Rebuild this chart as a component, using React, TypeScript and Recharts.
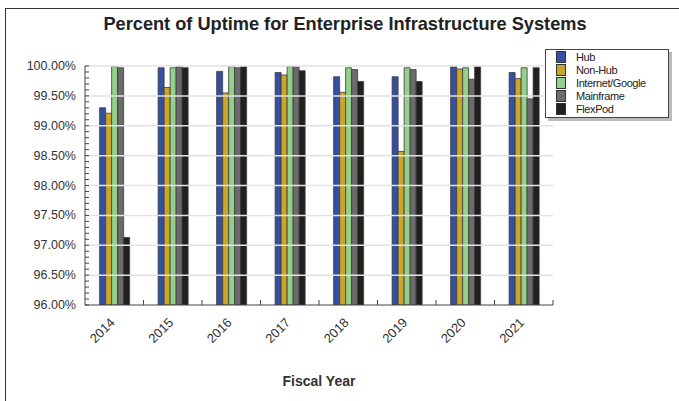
import React from "react";
import {
  BarChart,
  Bar,
  XAxis,
  YAxis,
  ReferenceLine,
  Legend,
} from "recharts";

// categories and series
const years = ["2014", "2015", "2016", "2017", "2018", "2019", "2020", "2021"];
const hub = [99.3, 99.97, 99.91, 99.89, 99.82, 99.82, 99.99, 99.89];
const nonHub = [99.21, 99.64, 99.55, 99.85, 99.56, 98.57, 99.95, 99.79];
const internetGoogle = [99.99, 99.97, 99.99, 99.99, 99.97, 99.97, 99.97, 99.97];
const mainframe = [99.97, 99.99, 99.97, 99.99, 99.94, 99.94, 99.78, 99.45];
const flexPod = [97.13, 99.97, 99.99, 99.92, 99.74, 99.74, 99.99, 99.97];

// axis ticks
const majorTicks = [96, 96.5, 97, 97.5, 98, 98.5, 99, 99.5, 100];
const minorTicks = [
  96, 96.1, 96.2, 96.3, 96.4, 96.5, 96.6, 96.7, 96.8, 96.9,
  97, 97.1, 97.2, 97.3, 97.4, 97.5, 97.6, 97.7, 97.8, 97.9,
  98, 98.1, 98.2, 98.3, 98.4, 98.5, 98.6, 98.7, 98.8, 98.9,
  99, 99.1, 99.2, 99.3, 99.4, 99.5, 99.6, 99.7, 99.8, 99.9, 100,
];

const series = [
  { key: "hub", name: "Hub", color: "#3550a0", values: hub },
  { key: "nonHub", name: "Non-Hub", color: "#c9a52a", values: nonHub },
  { key: "internet", name: "Internet/Google", color: "#93d18b", values: internetGoogle },
  { key: "mainframe", name: "Mainframe", color: "#6b6b6b", values: mainframe },
  { key: "flexPod", name: "FlexPod", color: "#221f1f", values: flexPod },
];

const FONT = "'Liberation Sans', Arial, sans-serif";

const chartData = years.map((year, i) => {
  const row: Record<string, string | number> = { year };
  series.forEach((s) => {
    row[s.key] = s.values[i];
  });
  return row;
});

// minor ticks point into the plot, labels only on the half-percent marks
const YTick = (props: any) => {
  const { x, y, payload } = props;
  const isMajor = majorTicks.some((t) => Math.abs(t - payload.value) < 1e-6);
  return (
    <g>
      <line x1={x} x2={x + 4} y1={y} y2={y} stroke="#444" />
      {isMajor && (
        <text
          x={x - 9}
          y={y}
          dy={4}
          textAnchor="end"
          fontSize={12.5}
          fontFamily={FONT}
          fill="#333"
        >
          {payload.value.toFixed(2) + "%"}
        </text>
      )}
    </g>
  );
};

// rotated year label, plus the small tick at the right edge of each category
const XTick = (props: any) => {
  const { x, y, payload, width, visibleTicksCount } = props;
  const half = width / visibleTicksCount / 2;
  const ax = x - 5;
  const ay = y + 12;
  return (
    <g>
      <line x1={x + half} x2={x + half} y1={y} y2={y - 5} stroke="#444" />
      <text
        x={ax}
        y={ay}
        dy={9}
        textAnchor="end"
        fontSize={13}
        fontFamily={FONT}
        fill="#333"
        transform={`rotate(-45, ${ax}, ${ay})`}
      >
        {payload.value}
      </text>
    </g>
  );
};

const LegendBox = () => (
  <div
    style={{
      width: 122,
      padding: "1px 0 2px 0",
      background: "#fff",
      border: "1px solid #444",
      boxShadow: "3px 3px 0 #bbb",
      fontFamily: FONT,
      fontSize: 11,
      color: "#222",
    }}
  >
    {series.map((s) => (
      <div
        key={s.key}
        style={{ display: "flex", alignItems: "center", height: 12.8 }}
      >
        <span
          style={{
            display: "inline-block",
            width: 10,
            height: 12,
            marginLeft: 10,
            marginRight: 10,
            background: s.color,
            border: "1px solid #333",
            boxSizing: "border-box",
          }}
        />
        <span style={{ letterSpacing: -0.4 }}>{s.name}</span>
      </div>
    ))}
  </div>
);

export default function App() {
  return (
    <div
      style={{
        position: "absolute",
        left: 0,
        top: 0,
        width: 679,
        height: 401,
        background: "#fff",
        overflow: "hidden",
      }}
    >
      <div
        style={{
          position: "absolute",
          left: 5,
          top: 8,
          width: 700,
          height: 400,
          borderLeft: "1px solid #333",
          borderTop: "1px solid #333",
        }}
      />
      <div
        style={{
          position: "absolute",
          left: 0,
          top: 14,
          width: 690,
          textAlign: "center",
          fontFamily: FONT,
          fontWeight: "bold",
          fontSize: 18.2,
          color: "#222",
        }}
      >
        Percent of Uptime for Enterprise Infrastructure Systems
      </div>
      <div style={{ position: "absolute", left: 0, top: 0 }}>
        <BarChart
          width={679}
          height={401}
          data={chartData}
          margin={{ top: 66, right: 126, bottom: 0, left: 0 }}
          barCategoryGap="25%"
          barGap={0}
        >
          {majorTicks.slice(1).map((t) => (
            <ReferenceLine key={t} y={t} stroke="#e2e2e2" strokeWidth={1.5} />
          ))}
          <XAxis
            dataKey="year"
            height={96}
            tick={<XTick />}
            tickLine={false}
            tickSize={0}
            tickMargin={0}
            axisLine={{ stroke: "#444" }}
            interval={0}
            label={{
              value: "Fiscal Year",
              position: "insideBottom",
              offset: 15,
              fontFamily: FONT,
              fontWeight: "bold",
              fontSize: 14,
              fill: "#333",
            }}
          />
          <YAxis
            width={85}
            domain={[96, 100]}
            ticks={minorTicks}
            interval={0}
            allowDataOverflow
            tick={<YTick />}
            tickLine={false}
            tickSize={0}
            tickMargin={0}
            axisLine={{ stroke: "#444" }}
          />
          <Legend
            layout="horizontal"
            align="center"
            verticalAlign="middle"
            content={<LegendBox />}
            wrapperStyle={{ left: 545, top: 49, width: 124 }}
          />
          {series.map((s) => (
            <Bar
              key={s.key}
              dataKey={s.key}
              name={s.name}
              fill={s.color}
              stroke="#3a3a3a"
              strokeWidth={0.8}
              isAnimationActive={false}
            />
          ))}
        </BarChart>
      </div>
    </div>
  );
}
